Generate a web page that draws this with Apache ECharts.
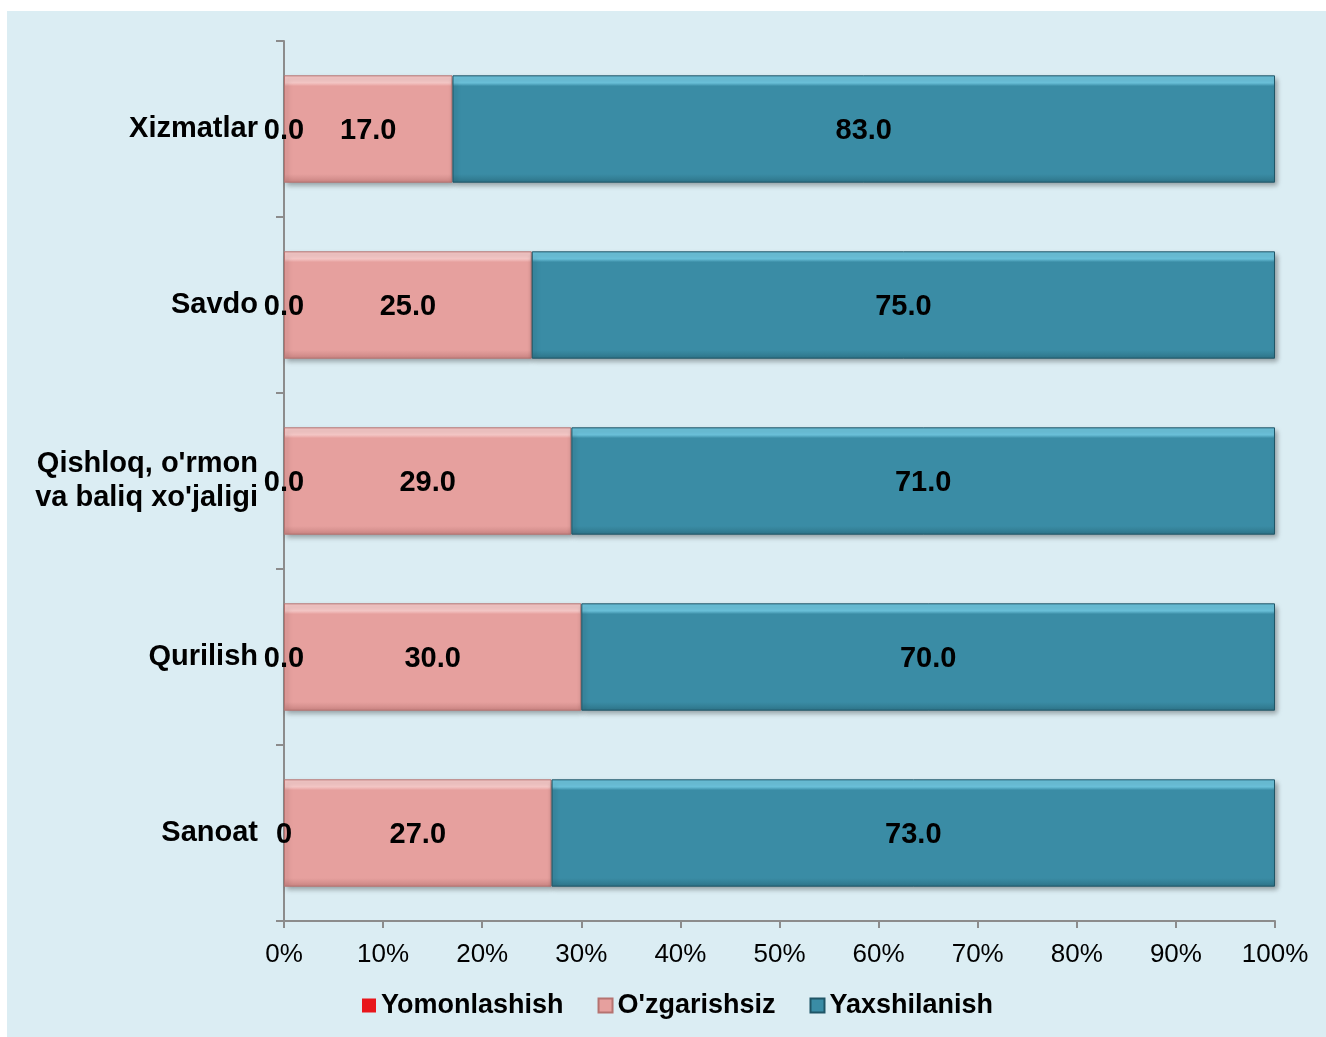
<!DOCTYPE html>
<html>
<head>
<meta charset="utf-8">
<script src="https://cdn.jsdelivr.net/npm/echarts@6/dist/echarts.min.js"></script>
<style>
  html, body { margin: 0; padding: 0; background: #fff; }
  #wrap { position: absolute; left: 7px; top: 11px; width: 1319px; height: 1026px; background: #DBEDF3; }
  #chart { position: absolute; left: 0; top: 0; width: 1326px; height: 1037px; }
</style>
</head>
<body>
<div id="wrap"></div>
<div id="chart"></div>
<script>
// kategoriyalar (pastdan yuqoriga)
const categories = ['Sanoat', 'Qurilish', "Qishloq, o'rmon\nva baliq xo'jaligi", 'Savdo', 'Xizmatlar'];
const seriesNames = ['Yomonlashish', "O'zgarishsiz", 'Yaxshilanish'];
const yomonValues = [0, 0, 0, 0, 0];
const yomonLabels = ['0', '0.0', '0.0', '0.0', '0.0'];
const ozgarValues = [27, 30, 29, 25, 17];
const yaxshiValues = [73, 70, 71, 75, 83];
const xTicks = [0, 10, 20, 30, 40, 50, 60, 70, 80, 90, 100];

const font = '"Liberation Sans", Arial, sans-serif';

// bevel ga o'xshash gradient
function bevel(light, base, dark) {
  return new echarts.graphic.LinearGradient(0, 0, 0, 1, [
    { offset: 0, color: light },
    { offset: 0.07, color: light },
    { offset: 0.1, color: base },
    { offset: 0.92, color: base },
    { offset: 1, color: dark }
  ]);
}

const labelStyle = {
  show: true,
  position: 'inside',
  color: '#000',
  fontFamily: font,
  fontWeight: 'bold',
  fontSize: 29,
  offset: [0, 2]
};

const shadow = {
  shadowColor: 'rgba(0,0,0,0.35)',
  shadowBlur: 5,
  shadowOffsetX: 2,
  shadowOffsetY: 3
};

const myChart = echarts.init(document.getElementById('chart'), null, { renderer: 'canvas' });

const option = {
  backgroundColor: 'transparent',
  animation: false,
  grid: { left: 284, right: 51, top: 41, bottom: 116, containLabel: false },
  legend: {
    bottom: 13,
    left: 357,
    itemWidth: 14,
    itemHeight: 14,
    itemGap: 34,
    icon: 'rect',
    textStyle: { fontFamily: font, fontWeight: 'bold', fontSize: 27, color: '#000' },
    data: [
      { name: seriesNames[0], itemStyle: { color: '#E8161B' } },
      { name: seriesNames[1], itemStyle: { color: '#E6A09E' } },
      { name: seriesNames[2], itemStyle: { color: '#3A8CA5' } }
    ]
  },
  xAxis: {
    type: 'value',
    min: xTicks[0],
    max: xTicks[xTicks.length - 1],
    interval: 10,
    splitLine: { show: false },
    axisLine: { show: true, lineStyle: { color: '#8C8C8C', width: 2 } },
    axisTick: { show: true, length: 7, lineStyle: { color: '#8C8C8C', width: 2 } },
    axisLabel: {
      formatter: '{value}%',
      margin: 21,
      fontFamily: font,
      fontSize: 26,
      color: '#000'
    }
  },
  yAxis: {
    type: 'category',
    data: categories,
    axisLine: { show: true, lineStyle: { color: '#8C8C8C', width: 2 } },
    axisTick: { show: true, length: 8, alignWithLabel: false, lineStyle: { color: '#8C8C8C', width: 2 } },
    axisLabel: {
      margin: 26,
      fontFamily: font,
      fontWeight: 'bold',
      fontSize: 29,
      lineHeight: 34,
      color: '#000'
    }
  },
  series: [
    {
      name: seriesNames[0],
      type: 'bar',
      stack: 'all',
      z: 4,
      barCategoryGap: '39%',
      data: yomonValues,
      itemStyle: { color: '#E8161B' },
      label: Object.assign({}, labelStyle, {
        formatter: p => yomonLabels[p.dataIndex]
      })
    },
    {
      name: seriesNames[1],
      type: 'bar',
      stack: 'all',
      barCategoryGap: '39%',
      data: ozgarValues,
      itemStyle: Object.assign({
        color: bevel('#F7C9C8', '#E6A09E', '#C98482'),
        borderColor: '#B57370',
        borderWidth: 1
      }, shadow),
      label: Object.assign({}, labelStyle, {
        formatter: p => p.value.toFixed(1)
      })
    },
    {
      name: seriesNames[2],
      type: 'bar',
      stack: 'all',
      barCategoryGap: '39%',
      data: yaxshiValues,
      itemStyle: Object.assign({
        color: bevel('#6CC3DC', '#3A8CA5', '#2E7488'),
        borderColor: '#1F5566',
        borderWidth: 1
      }, shadow),
      label: Object.assign({}, labelStyle, {
        formatter: p => p.value.toFixed(1)
      })
    }
  ]
};

myChart.setOption(option);
</script>
</body>
</html>
